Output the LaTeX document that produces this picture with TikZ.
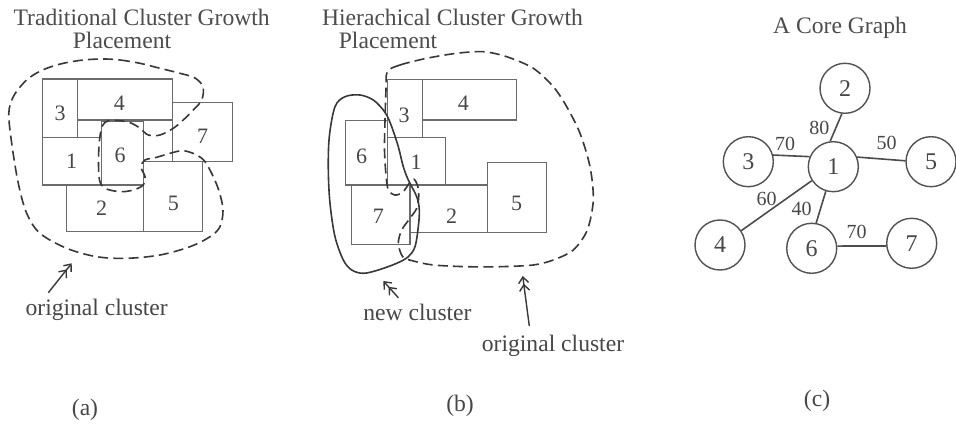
\documentclass[tikz,border=0pt]{standalone}
\usepackage{fontspec}
\setmainfont{Liberation Serif}
\usetikzlibrary{arrows.meta,fit}

\begin{document}
\begin{tikzpicture}[x=0.5pt,y=-0.5pt,
  blk/.style={draw=black!58, line width=0.7pt, inner sep=0pt, outer sep=0pt},
  num/.style={text=black!72, font=\fontsize{11}{13}\selectfont, inner sep=0pt},
  ttl/.style={text=black!70, font=\fontsize{11.8}{14}\selectfont, inner sep=0pt, anchor=base},
  lbl/.style={text=black!72, font=\fontsize{11.8}{14}\selectfont, inner sep=0pt, anchor=base},
  dashcurve/.style={draw=black!78, line width=0.8pt, dash pattern=on 5pt off 2.6pt},
  solidcurve/.style={draw=black!78, line width=0.8pt},
  vtx/.style={circle, draw=black!68, line width=0.7pt, minimum size=25pt, inner sep=0pt,
              font=\fontsize{12}{14}\selectfont, text=black!72},
  link/.style={draw=black!70, line width=0.8pt},
  wgt/.style={font=\fontsize{10}{12}\selectfont, text=black!72, inner sep=0pt},
  ptr/.style={draw=black!78, line width=0.7pt,
              -{Straight Barb[length=3pt,width=5pt] Straight Barb[length=3pt,width=5pt]}}
]
\fill[white] (0,0) rectangle (956,426);
\useasboundingbox (0,0) rectangle (956,426);

% ---------------- (a) traditional cluster growth ----------------
\node[ttl] (ta1) at (141.7,26) {Traditional Cluster Growth};
\node[ttl] (ta2) at (122,48.3) {Placement};

\node[blk, fit={(42.7,79) (77.7,137.3)}]   (ra3) {};
\node[blk, fit={(77.7,79) (172.7,120)}]    (ra4) {};
\node[blk, fit={(172.7,102.3) (232.3,161.7)}] (ra7) {};
\node[blk, fit={(42.7,137.3) (101.7,185)}] (ra1) {};
\node[blk, fit={(101.7,121.7) (143.3,185)}] (ra6) {};
\node[blk, fit={(66.7,185) (143.3,231.7)}] (ra2) {};
\node[blk, fit={(143.3,161.7) (202.7,231.7)}] (ra5) {};

\node[num] (la3) at (60,113) {3};
\node[num] (la4) at (119.3,103.3) {4};
\node[num] (la7) at (202.7,136) {7};
\node[num] (la1) at (71.7,161.7) {1};
\node[num] (la6) at (120,155) {6};
\node[num] (la2) at (101.7,208.3) {2};
\node[num] (la5) at (173.3,203.3) {5};

% original cluster: everything but blocks 6 and 7
\draw[dashcurve] plot[smooth cycle, tension=0.55] coordinates {
  (103.3,59) (120,60) (140,63.3) (160,68.3) (180,73.3) (195,78) (203,87)
  (201.7,100) (193.3,110) (183.3,120) (173.3,128.3) (160,135) (148.3,135)
  (140,128.3) (131.7,123.3) (120,120.7) (108.3,120.7) (102.3,126) (99.5,140)
  (98.5,160) (99.5,180) (105,188.3) (120,191.7) (133.3,190) (143.3,185)
  (145,176.7) (141,167) (145,160) (156.7,157.3) (170,153.3) (183.3,150.7)
  (196.7,155) (205,161.7) (213.3,176.7) (219.3,192) (223,210) (220,226.7)
  (210,236.7) (190,246.7) (160,255) (126.7,258.3) (96.7,256.7) (66.7,248.3)
  (40,233.3) (26.7,213.3) (18.3,183.3) (11.7,143.3) (8.8,113.3) (13.3,96.7)
  (23.3,83.3) (33.3,75) (46.7,68.3) (63.3,63.3) (83.3,60)};

\coordinate (pa) at (71.7,263.3);
\node[lbl] (oca) at (96.7,316) {original cluster};
\draw[ptr] (48.3,292.7) coordinate (pa0) -- (pa);
\node[lbl] (suba) at (85,415) {(a)};

% ---------------- (b) hierarchical cluster growth ----------------
\node[ttl] (tb1) at (452.5,26) {Hierachical Cluster Growth};
\node[ttl] (tb2) at (388,48.3) {Placement};

\node[blk, fit={(387.3,79.3) (422.3,137.7)}] (rb3) {};
\node[blk, fit={(422.3,79.3) (516.7,120)}]   (rb4) {};
\node[blk, fit={(345.7,120.7) (387.3,185)}]  (rb6) {};
\node[blk, fit={(387.3,137.7) (445.7,185)}]  (rb1) {};
\node[blk, fit={(351.7,185) (410,244.3)}]    (rb7) {};
\node[blk, fit={(410,185) (487.3,232.3)}]    (rb2) {};
\node[blk, fit={(487.3,162.3) (546.7,232.3)}] (rb5) {};

\node[num] (lb3) at (404,115) {3};
\node[num] (lb4) at (463.3,103.3) {4};
\node[num] (lb6) at (361.7,156) {6};
\node[num] (lb1) at (416,162.7) {1};
\node[num] (lb7) at (378.3,216) {7};
\node[num] (lb2) at (451.7,216) {2};
\node[num] (lb5) at (516.7,203.3) {5};

% original cluster
\draw[dashcurve] plot[smooth cycle, tension=0.5] coordinates {
  (387.3,71.7) (400,65) (426.7,58.3) (456.7,53.3) (483.3,51.7) (506.7,56.7)
  (533.3,68.3) (553.3,86.7) (566.7,106.7) (580,133.3) (590,166.7) (593.3,200)
  (587.3,230) (573.3,250) (553.3,260) (533.3,265) (500,266.7) (466.7,266.7)
  (433.3,265) (413.3,261) (402.7,256.7) (398.3,243.3) (401.7,230) (410,218.3)
  (416.7,208.3) (418.7,196.7) (417.7,186) (414,179.3) (409.3,183.3)
  (402.7,192.3) (395,195) (388.3,190) (386,175) (384.5,150) (385,120)
  (386,90)};

% new cluster
\draw[solidcurve] plot[smooth cycle, tension=0.55] coordinates {
  (383.3,110) (373.3,100) (360,95) (345,96.7) (335,106.7) (329.3,136.7)
  (328.3,170) (330,203.3) (335,236.7) (343.3,260) (351.7,270) (363.3,273.3)
  (378.3,270) (396.7,263.3) (408.3,256.7) (415,246.7) (418.3,226.7)
  (419.3,210) (416.7,196.7) (408.3,180) (403.3,166.7) (398.3,146.7)
  (391.7,126.7) (386.7,115)};

\coordinate (pn) at (383.3,281);
\coordinate (po) at (522.7,276);
\node[lbl] (ncb) at (417.5,321) {new cluster};
\node[lbl] (ocb) at (553,351) {original cluster};
\draw[ptr] (398.3,297.7) coordinate (pn0) -- (pn);
\draw[ptr] (529.3,326) coordinate (po0) -- (po);
\node[lbl] (subb) at (460,411) {(b)};

% ---------------- (c) core graph ----------------
\node[ttl] (tc) at (840,33.3) {A Core Graph};

\node[vtx] (n2) at (845,88.3) {2};
\node[vtx] (n1) at (833.3,166.7) {1};
\node[vtx] (n3) at (748.3,161.7) {3};
\node[vtx] (n5) at (931,161.7) {5};
\node[vtx] (n4) at (720,245) {4};
\node[vtx] (n6) at (811.7,248.3) {6};
\node[vtx] (n7) at (911.7,243.3) {7};

\draw[link] (n2.263) -- (n1.97);
\draw[link] (n3.15) -- (n1.157);
\draw[link] (n1.22) -- (n5.178);
\draw[link] (n1.213) -- (n4.34);
\draw[link] (n1.253) -- (n6.80);
\draw[link] (n6.5) -- (n7.186);

\node[wgt] (w21) at (819.3,128.3) {80};
\node[wgt] (w31) at (785,144) {70};
\node[wgt] (w15) at (886.7,143.3) {50};
\node[wgt] (w14) at (766.7,199.3) {60};
\node[wgt] (w16) at (801.7,209.3) {40};
\node[wgt] (w67) at (856.7,231.7) {70};

\node[lbl] (subc) at (817,406) {(c)};
\end{tikzpicture}
\end{document}
